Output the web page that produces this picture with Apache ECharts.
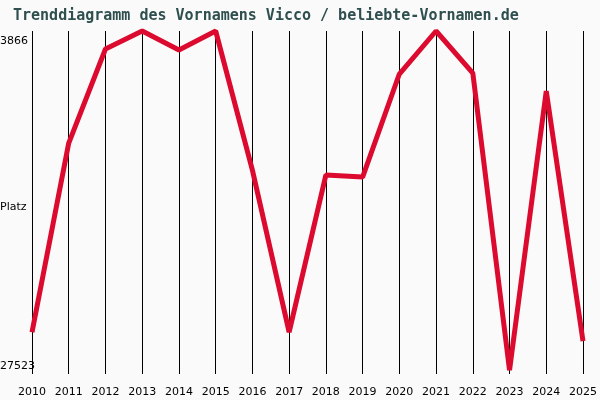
<!DOCTYPE html><html><head><meta charset="utf-8">
<script src="https://cdn.jsdelivr.net/npm/echarts@6/dist/echarts.min.js"></script>
<style>html,body{margin:0;background:#fafafa}#c{width:600px;height:400px}</style></head><body><div id="c"></div><script>
const years=['2010','2011','2012','2013','2014','2015','2016','2017','2018','2019','2020','2021','2022','2023','2024','2025'];
const ranks=[25056,11751,5133,3866,5204,3866,13652,25056,14004,14144,6893,3866,6823,27732,8090,25690];
const yTicks=['3866','27523'];
const ch=echarts.init(document.getElementById('c'));
ch.setOption({
backgroundColor:'#fafafa',animation:false,
title:{text:'Trenddiagramm des Vornamens Vicco / beliebte-Vornamen.de',left:8,top:4,textStyle:{fontFamily:'DejaVu Sans Mono',fontSize:15,fontWeight:'bold',color:'#2f4f4f'}},
grid:{left:32,right:12,top:31,bottom:26},
xAxis:{type:'category',data:years,boundaryGap:false,axisLine:{show:false},axisTick:{show:false},
 splitLine:{show:true,lineStyle:{color:'#000',width:1}},axisLabel:{color:'#000',fontFamily:'DejaVu Sans',fontSize:11,margin:13}},
yAxis:{type:'value',inverse:true,min:3866,max:28000,axisLine:{show:false},axisTick:{show:false},splitLine:{show:false},axisLabel:{show:false}},
graphic:[
{type:'text',left:0,top:36,style:{text:yTicks[0],font:'11px DejaVu Sans',fill:'#000'}},
{type:'text',left:0,top:361,style:{text:yTicks[1],font:'11px DejaVu Sans',fill:'#000'}},
{type:'text',left:0,top:202,style:{text:'Platz',font:'11px DejaVu Sans',fill:'#000'}}
],
series:[{type:'line',data:ranks,symbol:'none',clip:false,lineStyle:{color:'#dc0a2e',width:5}}]
});
</script></body></html>
